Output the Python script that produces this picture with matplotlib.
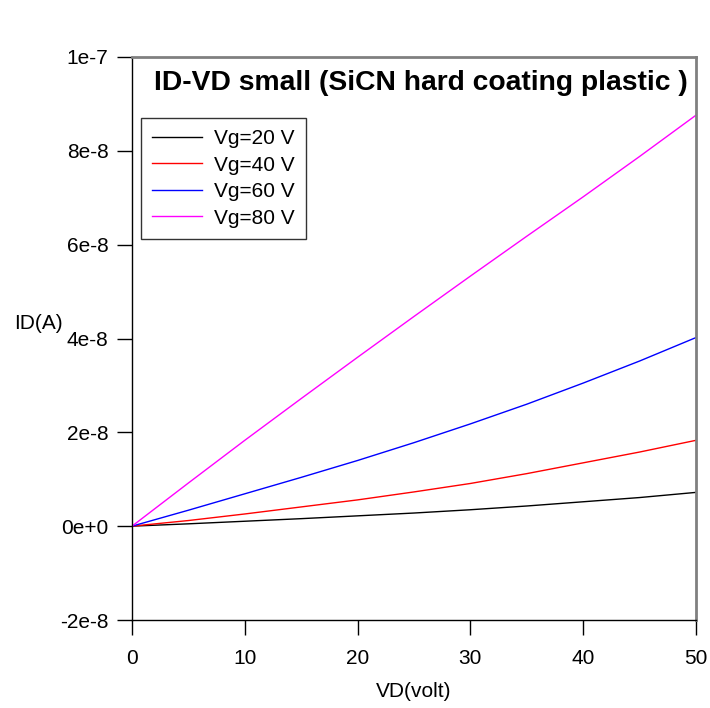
import matplotlib.pyplot as plt

plt.rcParams['font.family'] = ['Liberation Sans', 'DejaVu Sans']

# drain voltage sweep (V) and drain current (A) for each gate voltage
vd = [0, 5, 10, 15, 20, 25, 30, 35, 40, 45, 50]
id_vg20 = [0, 0.05e-8, 0.105e-8, 0.16e-8, 0.22e-8, 0.28e-8, 0.35e-8, 0.43e-8, 0.52e-8, 0.61e-8, 0.72e-8]
id_vg40 = [0, 0.12e-8, 0.26e-8, 0.41e-8, 0.56e-8, 0.73e-8, 0.91e-8, 1.12e-8, 1.35e-8, 1.58e-8, 1.83e-8]
id_vg60 = [0, 0.34e-8, 0.69e-8, 1.04e-8, 1.40e-8, 1.78e-8, 2.18e-8, 2.60e-8, 3.05e-8, 3.52e-8, 4.02e-8]
id_vg80 = [0, 0.92e-8, 1.83e-8, 2.72e-8, 3.60e-8, 4.47e-8, 5.33e-8, 6.18e-8, 7.02e-8, 7.88e-8, 8.76e-8]

labels = ['Vg=20 V', 'Vg=40 V', 'Vg=60 V', 'Vg=80 V']
yticks = [-2e-8, 0, 2e-8, 4e-8, 6e-8, 8e-8, 1e-7]
ytick_labels = ['-2e-8', '0e+0', '2e-8', '4e-8', '6e-8', '8e-8', '1e-7']

fig = plt.figure(figsize=(7.1, 7.08), dpi=100)
ax = fig.add_axes([132/710, 1 - 620/708, 564/710, 563/708])

ax.plot(vd, id_vg20, c='black', lw=1, label=labels[0])
ax.plot(vd, id_vg40, c='red', lw=1, label=labels[1])
ax.plot(vd, id_vg60, c='blue', lw=1, label=labels[2])
ax.plot(vd, id_vg80, c='magenta', lw=1, label=labels[3])

ax.set_xlim(0, 50)
ax.set_ylim(-2e-8, 1e-7)
ax.set_xticks(range(0, 51, 10))
ax.set_yticks(yticks)
ax.set_yticklabels(ytick_labels)
ax.tick_params(axis='both', direction='out', length=11, width=1, labelsize=15)
ax.tick_params(axis='x', pad=10)
ax.tick_params(axis='y', pad=6)

# frame: black axes on left/bottom, grey box on top/right
for side in ['left', 'bottom']:
    ax.spines[side].set_color('black')
    ax.spines[side].set_linewidth(1)
for side in ['top', 'right']:
    ax.spines[side].set_color('#808080')
    ax.spines[side].set_linewidth(2)

ax.set_xlabel('VD(volt)', fontsize=15, labelpad=10)
ax.set_ylabel('ID(A)', fontsize=15, rotation=0, ha='center', va='center')
ax.yaxis.set_label_coords(-0.1667, 0.527)

ax.text(0.5115, 0.954, 'ID-VD small (SiCN hard coating plastic )', transform=ax.transAxes,
        ha='center', va='center', fontsize=20.3, fontweight='bold')

leg = ax.legend(loc='upper left', bbox_to_anchor=(0.016, 0.892), fontsize=15,
                frameon=True, fancybox=False, edgecolor='black', handlelength=2.4,
                borderpad=0.55, labelspacing=0.36, handletextpad=0.55, borderaxespad=0)
leg.get_frame().set_linewidth(1)

fig.savefig('out.png', dpi=100)
